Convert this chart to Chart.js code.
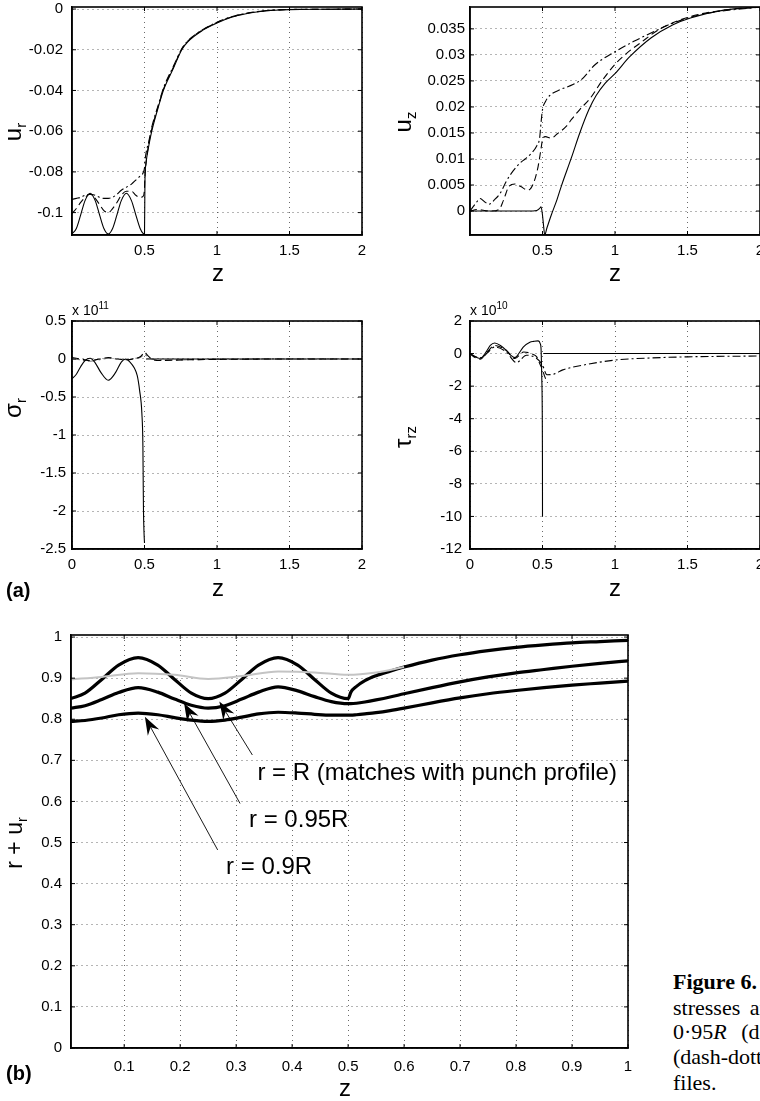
<!DOCTYPE html>
<html>
<head>
<meta charset="utf-8">
<script src="https://cdn.jsdelivr.net/npm/chart.js@4.4.1/dist/chart.umd.min.js"></script>
<style>
  html, body { margin: 0; padding: 0; background: #fff; }
  #page { position: relative; width: 760px; height: 1101px; overflow: hidden; font-family: "Liberation Sans", Arial, sans-serif; color: #000; }
  canvas { position: absolute; }
  .lbl { position: absolute; white-space: nowrap; line-height: 1; transform: translate(-50%, -50%); }
  .left { transform: translate(0, -50%); }
  .rot { transform: translate(-50%, -50%) rotate(-90deg); }
  .ax { font-size: 24px; }
  .ax sub { font-size: 0.62em; vertical-align: -0.35em; }
  .mult { font-size: 14px; }
  .mult sup { font-size: 0.72em; vertical-align: 0.6em; }
  .tag { font-size: 20px; font-weight: bold; }
  .cap { position: absolute; left: 673px; white-space: nowrap; font-family: "Liberation Serif", "Times New Roman", serif; font-size: 22px; line-height: 1; transform: translate(0, -50%); }
</style>
</head>
<body>
<div id="page">
  <canvas id="cUr" width="380" height="290" style="left:0;top:0"></canvas>
  <canvas id="cUz" width="410" height="290" style="left:380px;top:0"></canvas>
  <canvas id="cSig" width="380" height="310" style="left:0;top:300px"></canvas>
  <canvas id="cTau" width="410" height="310" style="left:380px;top:300px"></canvas>
  <canvas id="cB" width="660" height="481" style="left:0;top:620px"></canvas>

  <div class="lbl ax rot" style="left:15px;top:132px">u<sub>r</sub></div>
  <div class="lbl ax" style="left:218px;top:273px">z</div>
  <div class="lbl ax rot" style="left:405px;top:122px">u<sub>z</sub></div>
  <div class="lbl ax" style="left:615px;top:273px">z</div>

  <div class="lbl mult left" style="left:72px;top:309px">x 10<sup>11</sup></div>
  <div class="lbl ax rot" style="left:15px;top:408px">σ<sub>r</sub></div>
  <div class="lbl ax" style="left:218px;top:588px">z</div>
  <div class="lbl tag left" style="left:6px;top:590px">(a)</div>

  <div class="lbl mult left" style="left:470px;top:309px">x 10<sup>10</sup></div>
  <div class="lbl ax rot" style="left:405px;top:437px">τ<sub>rz</sub></div>
  <div class="lbl ax" style="left:615px;top:588px">z</div>

  <div class="lbl ax rot" style="left:16px;top:843px;font-size:23px">r + u<sub>r</sub></div>
  <div class="lbl ax" style="left:345px;top:1088px">z</div>
  <div class="lbl tag left" style="left:6px;top:1073px">(b)</div>

  <div class="cap" style="top:982px"><b>Figure 6.</b></div>
  <div class="cap" style="top:1008px;word-spacing:4px">stresses and</div>
  <div class="cap" style="top:1032px;word-spacing:9px">0·95<i>R</i> (dashed</div>
  <div class="cap" style="top:1057px">(dash-dotted</div>
  <div class="cap" style="top:1083px">files.</div>
</div>

<script>
// ---------- (a) radial displacement u_r ----------
const urZ = [0, 0.03, 0.06, 0.09, 0.125, 0.16, 0.19, 0.22, 0.25, 0.28, 0.31, 0.34, 0.375, 0.41, 0.44, 0.47, 0.49, 0.5,
             0.503, 0.51, 0.53, 0.55, 0.6, 0.63, 0.7, 0.757, 0.8, 0.9, 1, 1.1, 1.2, 1.3, 1.4, 1.5, 1.75, 2];
const urSolid = [-0.1105, -0.1078, -0.1011, -0.0941, -0.0905, -0.0941, -0.1011, -0.1078, -0.1105, -0.1078, -0.1011, -0.0941,
                 -0.0905, -0.0941, -0.1011, -0.1078, -0.1102, -0.1105, -0.085, -0.076, -0.067, -0.06, -0.047, -0.04, -0.029,
                 -0.02, -0.016, -0.0105, -0.0068, -0.004, -0.0023, -0.0012, -0.0006, -0.0003, -0.0001, 0];
const urDash = [-0.1005, -0.098, -0.095, -0.0925, -0.091, -0.093, -0.096, -0.099, -0.1, -0.098, -0.095, -0.0915,
                -0.0895, -0.0895, -0.0915, -0.0925, -0.092, -0.088, -0.082, -0.076, -0.066, -0.059, -0.0465, -0.0395, -0.0285,
                -0.0197, -0.0157, -0.0103, -0.0066, -0.0039, -0.0022, -0.0011, -0.0005, -0.0002, -0.0001, 0];
const urDot = [-0.0935, -0.093, -0.0925, -0.0915, -0.091, -0.0915, -0.0925, -0.093, -0.093, -0.0925, -0.091, -0.089,
               -0.0875, -0.086, -0.084, -0.082, -0.0805, -0.078, -0.075, -0.071, -0.065, -0.058, -0.046, -0.039, -0.028,
               -0.0195, -0.0155, -0.0102, -0.0065, -0.0038, -0.0021, -0.0011, -0.0005, -0.0002, -0.0001, 0];
const urTicks = [-0.1, -0.08, -0.06, -0.04, -0.02, 0];

// ---------- (a) axial displacement u_z ----------
const uzSolidZ = [0, 0.1, 0.2, 0.3, 0.4, 0.46, 0.48, 0.49, 0.5, 0.508, 0.515, 0.53, 0.56, 0.6, 0.63, 0.7, 0.757, 0.82,
                  0.87, 0.93, 1, 1.1, 1.25, 1.4, 1.52, 1.75, 2];
const uzSolid = [0, 0, 0, 0, 0, 0.0001, 0.0005, 0.0008, -0.0008, -0.003, -0.0046, -0.0033, -0.0008, 0.0022, 0.0048, 0.0103,
                 0.015, 0.0195, 0.0222, 0.0245, 0.0264, 0.0296, 0.0333, 0.0358, 0.0371, 0.0386, 0.0392];
const uzDashZ = [0, 0.05, 0.1, 0.15, 0.2, 0.23, 0.27, 0.31, 0.35, 0.4, 0.44, 0.47, 0.49, 0.5, 0.52, 0.56, 0.6, 0.665, 0.7,
                 0.757, 0.83, 0.91, 1, 1.08, 1.17, 1.3, 1.5, 1.75, 2];
const uzDash = [0, 0.0003, 0.0001, 0, 0.0003, 0.002, 0.0048, 0.0052, 0.0047, 0.004, 0.0055, 0.0086, 0.012, 0.0137, 0.0143,
                0.014, 0.0148, 0.0163, 0.0176, 0.0195, 0.0217, 0.025, 0.0282, 0.0303, 0.0322, 0.0348, 0.0372, 0.0386, 0.0392];
const uzDotZ = [0, 0.04, 0.07, 0.1, 0.13, 0.17, 0.21, 0.25, 0.3, 0.344, 0.38, 0.42, 0.46, 0.48, 0.49, 0.5, 0.52, 0.55,
                0.62, 0.71, 0.77, 0.862, 1, 1.13, 1.27, 1.4, 1.6, 2];
const uzDot = [0, 0.0015, 0.0024, 0.0018, 0.0013, 0.0022, 0.0035, 0.0057, 0.0078, 0.0092, 0.01, 0.011, 0.0125, 0.014,
               0.017, 0.0195, 0.021, 0.0222, 0.0233, 0.0243, 0.0253, 0.0281, 0.0306, 0.0326, 0.0345, 0.0361, 0.0378, 0.0392];
const uzTicks = [0, 0.005, 0.01, 0.015, 0.02, 0.025, 0.03, 0.035];

// ---------- (a) radial stress sigma_r (x 1e11) ----------
const sigSolidZ = [0, 0.03, 0.06, 0.09, 0.125, 0.16, 0.2, 0.25, 0.3, 0.34, 0.37, 0.4, 0.43, 0.45, 0.466, 0.482, 0.489,
                   0.491, 0.493, 0.497, 0.5, 0.503, 0.51, 1, 2];
const sigSolid = [-0.26, -0.2, -0.1, -0.02, 0.01, -0.05, -0.18, -0.28, -0.18, -0.04, 0, -0.04, -0.12, -0.22, -0.41, -0.72,
                  -1.15, -1.6, -2.0, -2.3, -2.42, null, 0, 0, 0];
const sigOtherZ = [0, 0.06, 0.125, 0.19, 0.25, 0.31, 0.375, 0.44, 0.47, 0.49, 0.5, 0.52, 0.55, 0.6, 0.8, 1, 1.5, 2];
const sigDash = [0.02, 0, -0.02, 0, 0.02, 0, -0.01, 0.01, 0.03, 0.07, 0.09, 0.05, 0, -0.02, -0.01, -0.005, 0, 0];
const sigDot = [0, -0.01, -0.03, -0.01, 0.01, 0, -0.01, 0.01, 0.02, 0.05, 0.06, 0.03, 0, -0.015, -0.01, -0.005, 0, 0];
const sigTicks = [-2.5, -2, -1.5, -1, -0.5, 0, 0.5];

// ---------- (a) shear stress tau_rz (x 1e10) ----------
const tauSolidZ = [0, 0.035, 0.07, 0.115, 0.14, 0.17, 0.21, 0.25, 0.28, 0.31, 0.34, 0.367, 0.413, 0.44, 0.47, 0.485, 0.49,
                   0.495, 0.4995, 0.5, 0.502, 0.505, 1, 2];
const tauSolid = [0, -0.2, -0.3, 0.15, 0.5, 0.65, 0.5, 0.2, -0.1, -0.25, 0.05, 0.4, 0.7, 0.75, 0.78, 0.6, 0.3, -1.5, -6, -10,
                  null, 0, 0, 0];
const tauDashZ = [0, 0.035, 0.07, 0.12, 0.17, 0.25, 0.31, 0.37, 0.436, 0.46, 0.48, 0.5, 0.515, 0.535];
const tauDash = [0, -0.25, -0.35, 0.1, 0.5, 0.2, -0.3, 0.1, -0.05, -0.2, -0.6, -1.0, -1.4, -1.8];
const tauDotZ = [0, 0.04, 0.08, 0.12, 0.17, 0.25, 0.32, 0.39, 0.46, 0.5, 0.53, 0.575, 0.64, 0.757, 1, 1.25, 1.5, 2];
const tauDot = [0, -0.2, -0.25, 0.05, 0.4, 0.1, -0.55, -0.1, -0.3, -0.7, -1.3, -1.27, -1.0, -0.75, -0.4, -0.27, -0.2, -0.15];
const tauTicks = [-12, -10, -8, -6, -4, -2, 0, 2];

const zTicksA = [0.5, 1, 1.5, 2];
const zTicksA0 = [0, 0.5, 1, 1.5, 2];

// ---------- (b) deformed radius r + u_r ----------
const bZ = [0.005, 0.03, 0.06, 0.09, 0.125, 0.16, 0.19, 0.22, 0.25, 0.28, 0.31, 0.34, 0.375, 0.41, 0.44, 0.47, 0.5,
            0.505, 0.515, 0.53, 0.55, 0.575, 0.6, 0.65, 0.7, 0.75, 0.8, 0.85, 0.9, 0.95, 1];
const bR = [0.8504, 0.8636, 0.8969, 0.9318, 0.95, 0.9318, 0.8969, 0.8636, 0.85, 0.8636, 0.8969, 0.9318, 0.95, 0.9318,
            0.8969, 0.8636, 0.85, 0.866, 0.88, 0.894, 0.906, 0.917, 0.927, 0.944, 0.957, 0.967, 0.975, 0.981, 0.986, 0.989, 0.992];
const b95 = [0.827, 0.833, 0.848, 0.865, 0.877, 0.866, 0.849, 0.834, 0.827, 0.833, 0.849, 0.866, 0.879, 0.869, 0.855,
             0.843, 0.838, 0.838, 0.839, 0.842, 0.847, 0.854, 0.862, 0.877, 0.891, 0.903, 0.913, 0.921, 0.929, 0.936, 0.942];
const b90 = [0.795, 0.797, 0.803, 0.811, 0.815, 0.811, 0.804, 0.798, 0.795, 0.798, 0.805, 0.813, 0.817, 0.815, 0.812,
             0.81, 0.81, 0.81, 0.811, 0.813, 0.816, 0.821, 0.827, 0.84, 0.852, 0.862, 0.87, 0.877, 0.883, 0.888, 0.893];
const punchZ = [0.005, 0.06, 0.125, 0.19, 0.25, 0.31, 0.375, 0.44, 0.5, 0.55, 0.6];
const punch = [0.897, 0.903, 0.912, 0.908, 0.898, 0.905, 0.916, 0.914, 0.908, 0.914, 0.927];
const bXTicks = [0.1, 0.2, 0.3, 0.4, 0.5, 0.6, 0.7, 0.8, 0.9, 1];
const bYTicks = [0, 0.1, 0.2, 0.3, 0.4, 0.5, 0.6, 0.7, 0.8, 0.9, 1];

// annotations of (b), in data units
const noteText = ['r = R (matches with punch profile)', 'r = 0.95R', 'r = 0.9R'];
const noteZ = [0.338, 0.323, 0.282];
const noteV = [0.669, 0.555, 0.44];
const tailZ = [0.329, 0.307, 0.267];
const tailV = [0.713, 0.595, 0.482];
const headZ = [0.27, 0.207, 0.137];
const headV = [0.843, 0.839, 0.806];

const FONT = '"Liberation Sans", Arial, sans-serif';
Chart.defaults.font.family = FONT;
Chart.defaults.font.size = 15;
Chart.defaults.color = '#000';

const DASH = [7, 4];
const DOT = [8, 3, 2, 3];

function line(z, v, dash, width, color) {
  return {
    data: z.map((x, i) => ({ x: x, y: v[i] })),
    borderColor: color || '#000',
    borderWidth: width || 1.1,
    borderDash: dash || [],
    pointRadius: 0,
    cubicInterpolationMode: 'monotone',
    fill: false
  };
}

// full box plus inward tick marks, MATLAB style
const frame = {
  id: 'frame',
  afterDatasetsDraw(chart) {
    const { ctx, chartArea: a, scales } = chart;
    ctx.save();
    ctx.strokeStyle = '#000';
    ctx.lineWidth = 1;
    ctx.beginPath();
    scales.x.ticks.forEach(t => {
      const x = scales.x.getPixelForValue(t.value);
      ctx.moveTo(x, a.bottom); ctx.lineTo(x, a.bottom - 4);
      ctx.moveTo(x, a.top); ctx.lineTo(x, a.top + 4);
    });
    scales.y.ticks.forEach(t => {
      const y = scales.y.getPixelForValue(t.value);
      ctx.moveTo(a.left, y); ctx.lineTo(a.left + 4, y);
      ctx.moveTo(a.right, y); ctx.lineTo(a.right - 4, y);
    });
    ctx.stroke();
    ctx.lineWidth = 1.6;
    ctx.strokeRect(a.left, a.top, a.right - a.left, a.bottom - a.top);
    ctx.restore();
  }
};

const notes = {
  id: 'notes',
  afterDatasetsDraw(chart) {
    const { ctx, scales: { x, y } } = chart;
    ctx.save();
    ctx.strokeStyle = '#000';
    ctx.fillStyle = '#000';
    ctx.lineWidth = 0.9;
    noteText.forEach((txt, i) => {
      const x0 = x.getPixelForValue(tailZ[i]), y0 = y.getPixelForValue(tailV[i]);
      const x1 = x.getPixelForValue(headZ[i]), y1 = y.getPixelForValue(headV[i]);
      const ang = Math.atan2(y1 - y0, x1 - x0);
      const c = Math.cos(ang), s = Math.sin(ang);
      ctx.beginPath();
      ctx.moveTo(x0, y0);
      ctx.lineTo(x1 - 12 * c, y1 - 12 * s);
      ctx.stroke();
      ctx.beginPath();
      ctx.moveTo(x1, y1);
      ctx.lineTo(x1 - 18 * c + 6.5 * s, y1 - 18 * s - 6.5 * c);
      ctx.lineTo(x1 - 12 * c, y1 - 12 * s);
      ctx.lineTo(x1 - 18 * c - 6.5 * s, y1 - 18 * s + 6.5 * c);
      ctx.closePath();
      ctx.fill();
      ctx.font = '24px ' + FONT;
      ctx.textBaseline = 'middle';
      ctx.textAlign = 'left';
      ctx.fillText(txt, x.getPixelForValue(noteZ[i]), y.getPixelForValue(noteV[i]));
    });
    ctx.restore();
  }
};

function axis(min, max, ticks, fit, pad, horiz) {
  return {
    type: 'linear',
    min: min,
    max: max,
    afterBuildTicks: s => { s.ticks = ticks.map(v => ({ value: v })); },
    afterFit: s => {
      if (horiz) { s.height = fit; s.paddingLeft = 0; s.paddingRight = 0; }
      else { s.width = fit; s.paddingTop = 0; s.paddingBottom = 0; }
    },
    ticks: { padding: pad, autoSkip: false, maxRotation: 0, callback: v => String(v) },
    grid: { color: '#444', lineWidth: 0.8, drawTicks: false },
    border: { display: true, color: '#000', width: 1.5, dash: [1, 4] }
  };
}

function panel(id, datasets, xs, ys, padding, extra) {
  return new Chart(document.getElementById(id), {
    type: 'line',
    data: { datasets: datasets },
    options: {
      responsive: false,
      animation: false,
      layout: { padding: padding },
      plugins: { legend: { display: false }, tooltip: { enabled: false } },
      scales: { x: xs, y: ys }
    },
    plugins: [frame].concat(extra || [])
  });
}

panel('cUr',
  [line(urZ, urSolid), line(urZ, urDash, DASH), line(urZ, urDot, DOT)],
  axis(0, 2, zTicksA, 55, 7, true),
  axis(-0.111, 0.001, urTicks, 72, 9, false),
  { left: 0, top: 7, right: 18, bottom: 0 });

panel('cUz',
  [line(uzSolidZ, uzSolid), line(uzDashZ, uzDash, DASH), line(uzDotZ, uzDot, DOT)],
  axis(0, 2, zTicksA, 55, 7, true),
  axis(-0.0046, 0.0392, uzTicks, 90, 5, false),
  { left: 0, top: 7, right: 30, bottom: 0 });

panel('cSig',
  [line(sigSolidZ, sigSolid), line(sigOtherZ, sigDash, DASH), line(sigOtherZ, sigDot, DOT, 1.1, '#777')],
  axis(0, 2, zTicksA0, 61, 7, true),
  axis(-2.5, 0.5, sigTicks, 72, 6, false),
  { left: 0, top: 21, right: 18, bottom: 0 });

panel('cTau',
  [line(tauSolidZ, tauSolid), line(tauDashZ, tauDash, DASH), line(tauDotZ, tauDot, DOT)],
  axis(0, 2, zTicksA0, 61, 7, true),
  axis(-12, 2, tauTicks, 90, 8, false),
  { left: 0, top: 21, right: 30, bottom: 0 });

panel('cB',
  [line(punchZ, punch, [], 2, '#c4c4c4'), line(bZ, bR, [], 3.2), line(bZ, b95, [], 3.2), line(bZ, b90, [], 3.2)],
  axis(0.005, 1, bXTicks, 53, 10, true),
  axis(0, 1.005, bYTicks, 71, 9, false),
  { left: 0, top: 15, right: 32, bottom: 0 },
  [notes]);
</script>
</body>
</html>
